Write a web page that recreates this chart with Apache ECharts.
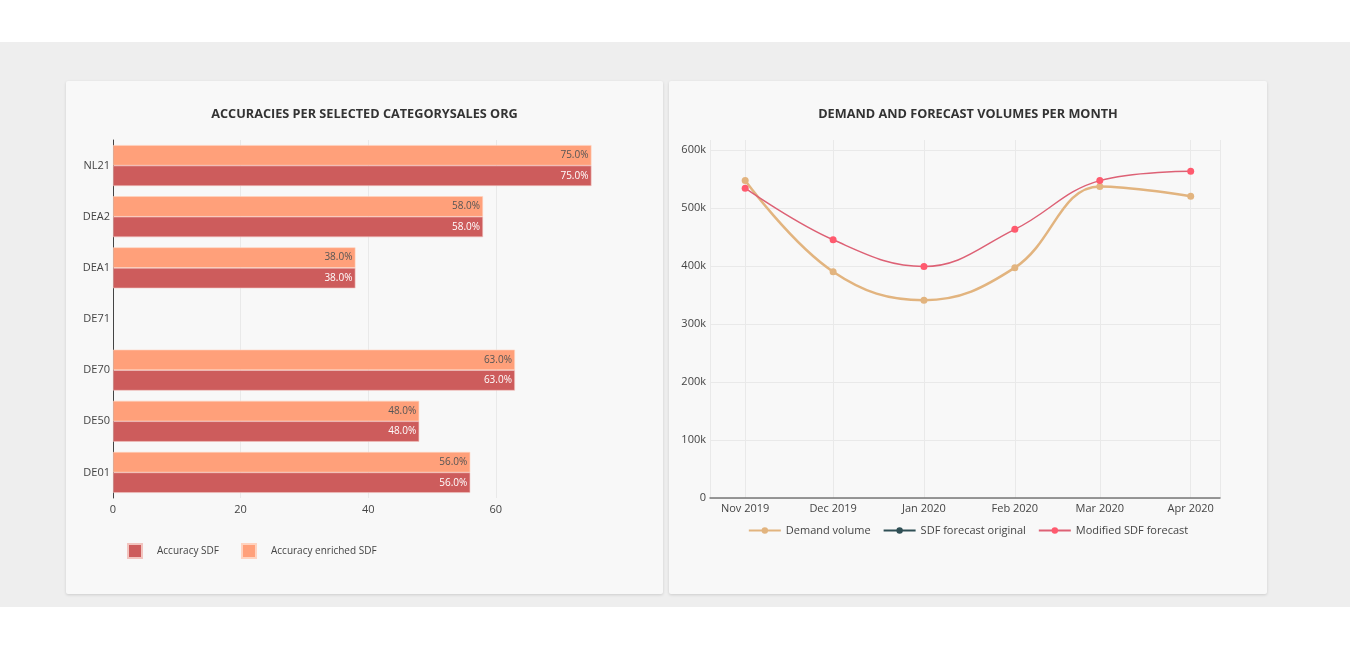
<!DOCTYPE html>
<html>
<head>
<meta charset="utf-8">
<script src="https://cdn.jsdelivr.net/npm/echarts@6/dist/echarts.min.js"></script>
<style>
  html, body { margin: 0; padding: 0; background: #fff; font-family: "Open Sans", sans-serif; }
  #band { position: absolute; left: 0; top: 42px; width: 1350px; height: 565px; background: #eeeeee; }
  .panel { position: absolute; top: 81px; height: 513px; background: #f8f8f8;
           box-shadow: 0 1px 3px rgba(0,0,0,0.14); border-radius: 2px; }
  #left { left: 66px; width: 597px; }
  #right { left: 669px; width: 598px; }
</style>
</head>
<body>
<div id="band"></div>
<div class="panel" id="left"></div>
<div class="panel" id="right"></div>
<script>
// accuracies per sales org (bottom to top)
const orgs = ['DE01', 'DE50', 'DE70', 'DE71', 'DEA1', 'DEA2', 'NL21'];
const accSdf = [56, 48, 63, null, 38, 58, 75];
const accEnriched = [56, 48, 63, null, 38, 58, 75];
const accTicks = [0, 20, 40, 60];

// demand and forecast volumes per month
const months = ['2019-11-01', '2019-12-01', '2020-01-01', '2020-02-01', '2020-03-01', '2020-04-01'];
const demandVolume = [547000, 390000, 341000, 397000, 537000, 520000];
const sdfOriginal = [];
const modifiedSdf = [534000, 445000, 399000, 463000, 547000, 563000];
const monthNames = ['Jan', 'Feb', 'Mar', 'Apr', 'May', 'Jun', 'Jul', 'Aug', 'Sep', 'Oct', 'Nov', 'Dec'];

const font = '"Open Sans", sans-serif';
const pct = p => p.value.toFixed(1) + '%';

const left = echarts.init(document.getElementById('left'));
left.setOption({
  animation: false,
  textStyle: {fontFamily: font},
  title: {
    text: 'ACCURACIES PER SELECTED CATEGORYSALES ORG',
    left: 'center', top: 22,
    textStyle: {fontSize: 12.7, fontWeight: 'bold', color: '#333', fontFamily: font}
  },
  legend: {
    left: 56, top: 457,
    itemWidth: 14, itemHeight: 14, itemGap: 22,
    icon: 'rect',
    data: ['Accuracy SDF', 'Accuracy enriched SDF'],
    textStyle: {fontSize: 10, color: '#444', padding: [0, 0, 0, 10]}
  },
  grid: {left: 47, top: 59, width: 504, height: 358},
  xAxis: {
    type: 'value', min: 0, max: 79, interval: 20,
    axisLine: {show: false}, axisTick: {show: false},
    axisLabel: {
      fontSize: 11, color: '#444', margin: 6,
      formatter: v => accTicks.includes(v) ? String(v) : ''
    },
    splitLine: {show: true, showMinLine: false, showMaxLine: false, lineStyle: {color: '#e9e9e9'}}
  },
  yAxis: {
    type: 'category', data: orgs,
    axisLine: {show: true, lineStyle: {color: '#444', width: 1}},
    axisTick: {show: false},
    axisLabel: {fontSize: 11, color: '#444', margin: 3}
  },
  // enriched first so that it sits above the SDF bar in each row
  series: [
    {
      name: 'Accuracy enriched SDF', type: 'bar', data: accEnriched,
      barGap: '0%', barCategoryGap: '20%',
      itemStyle: {color: '#ffa07a', borderColor: '#ffd3bf', borderWidth: 0.6},
      label: {show: true, position: 'insideRight', distance: 3, color: '#555', fontSize: 10, formatter: pct}
    },
    {
      name: 'Accuracy SDF', type: 'bar', data: accSdf,
      itemStyle: {color: '#cd5c5c', borderColor: '#f2c4bf', borderWidth: 0.6},
      label: {show: true, position: 'insideRight', distance: 3, color: '#fff', fontSize: 10, formatter: pct}
    }
  ]
});

const right = echarts.init(document.getElementById('right'));
right.setOption({
  animation: false,
  textStyle: {fontFamily: font},
  title: {
    text: 'DEMAND AND FORECAST VOLUMES PER MONTH',
    left: 'center', top: 22,
    textStyle: {fontSize: 12.7, fontWeight: 'bold', color: '#333', fontFamily: font}
  },
  legend: {
    left: 'center', top: 439,
    itemWidth: 32, itemHeight: 8, itemGap: 12,
    data: ['Demand volume', 'SDF forecast original', 'Modified SDF forecast'],
    textStyle: {fontSize: 11, color: '#444'}
  },
  grid: {left: 41, top: 59, width: 510, height: 358},
  xAxis: {
    type: 'time',
    min: '2019-10-20', max: '2020-04-11',
    splitNumber: 6,
    minInterval: 28 * 86400000,
    axisLine: {show: true, lineStyle: {color: '#777', width: 1.5}},
    axisTick: {show: false},
    axisLabel: {
      fontSize: 11, color: '#444', margin: 5, hideOverlap: false,
      formatter: v => { const d = new Date(v); return monthNames[d.getMonth()] + ' ' + d.getFullYear(); }
    },
    splitLine: {show: true, lineStyle: {color: '#e9e9e9'}}
  },
  yAxis: {
    type: 'value', min: 0, max: 617000, interval: 100000,
    axisLine: {show: false}, axisTick: {show: false},
    axisLabel: {
      fontSize: 11, color: '#444', margin: 4, showMaxLabel: false,
      formatter: v => v === 0 ? '0' : (v / 1000) + 'k'
    },
    splitLine: {show: true, showMaxLine: false, lineStyle: {color: '#e9e9e9'}}
  },
  series: [
    {
      name: 'Demand volume', type: 'line', smooth: 0.4,
      data: months.map((m, i) => [m, demandVolume[i]]),
      symbol: 'circle', symbolSize: 7,
      itemStyle: {color: '#e2b47f'},
      lineStyle: {color: '#e2b47f', width: 2.5}
    },
    {
      name: 'SDF forecast original', type: 'line', smooth: 0.4,
      data: sdfOriginal,
      symbol: 'circle', symbolSize: 7,
      itemStyle: {color: '#2f4f55'},
      lineStyle: {color: '#2f4f55', width: 1.5}
    },
    {
      name: 'Modified SDF forecast', type: 'line', smooth: 0.4,
      data: months.map((m, i) => [m, modifiedSdf[i]]),
      symbol: 'circle', symbolSize: 7,
      itemStyle: {color: '#ff5a6e'},
      lineStyle: {color: '#dd6175', width: 1.5}
    }
  ]
});
</script>
</body>
</html>
